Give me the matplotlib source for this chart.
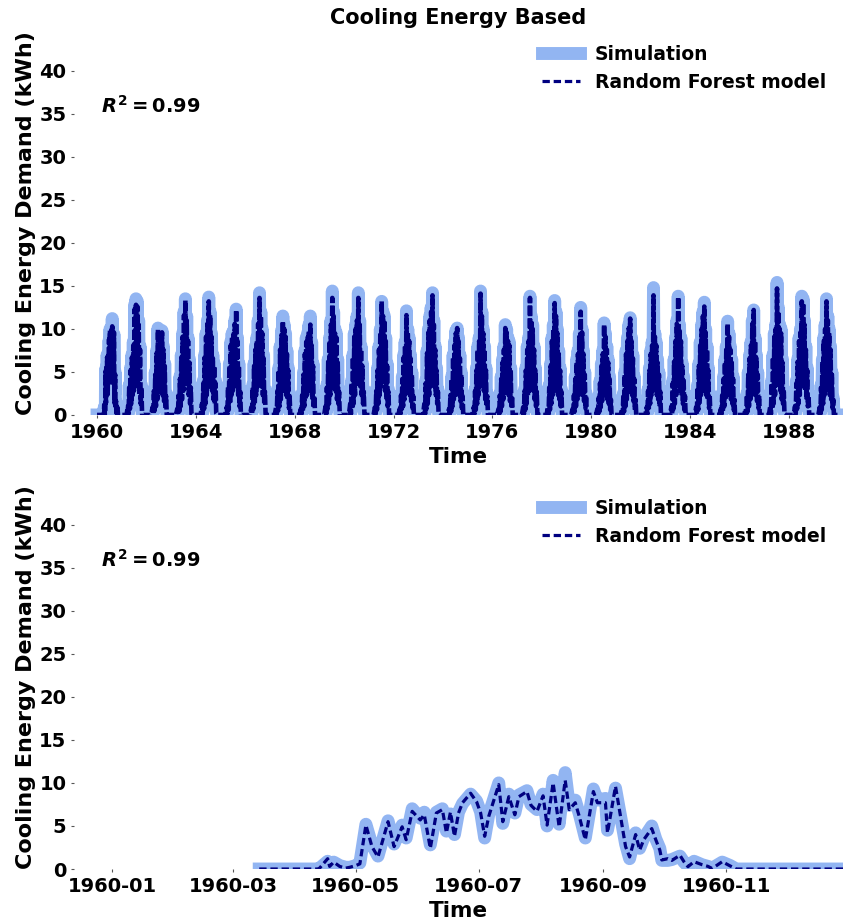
import matplotlib
matplotlib.use("Agg")
import matplotlib.pyplot as plt
import matplotlib.dates as mdates
import pandas as pd

# ---------------- data ----------------
# 1960 daily detail (bottom panel, also used for 1960 in the top panel)
detail_dates = ["1960-03-14", "1960-04-12", "1960-04-13", "1960-04-17", "1960-04-18", "1960-04-20",
                "1960-04-23", "1960-04-26", "1960-04-28", "1960-05-01", "1960-05-03", "1960-05-06",
                "1960-05-09", "1960-05-12", "1960-05-17", "1960-05-20", "1960-05-24", "1960-05-26",
                "1960-05-29", "1960-06-02", "1960-06-04", "1960-06-07", "1960-06-10", "1960-06-13",
                "1960-06-15", "1960-06-17", "1960-06-19", "1960-06-21", "1960-06-23", "1960-06-27",
                "1960-06-30", "1960-07-02", "1960-07-04", "1960-07-06", "1960-07-11", "1960-07-13",
                "1960-07-16", "1960-07-19", "1960-07-21", "1960-07-25", "1960-07-27", "1960-07-30",
                "1960-08-02", "1960-08-04", "1960-08-07", "1960-08-10", "1960-08-13", "1960-08-15",
                "1960-08-18", "1960-08-20", "1960-08-23", "1960-08-27", "1960-08-29", "1960-09-02",
                "1960-09-03", "1960-09-07", "1960-09-12", "1960-09-14", "1960-09-17", "1960-09-19",
                "1960-09-21", "1960-09-25", "1960-09-27", "1960-09-29", "1960-09-30", "1960-10-03",
                "1960-10-05", "1960-10-09", "1960-10-11", "1960-10-13", "1960-10-16", "1960-10-20",
                "1960-10-23", "1960-10-25", "1960-10-30", "1960-11-03", "1960-11-06", "1960-12-31"]
detail_sim = [0.0, 0.0, 0.1, 0.9, 0.5, 0.8, 0.4, 0.2, 0.2, 0.4, 0.7, 5.2,
              2.8, 1.5, 5.6, 2.9, 5.1, 3.6, 7.0, 5.9, 6.6, 2.8, 6.6, 7.0,
              4.4, 6.4, 4.0, 6.6, 7.6, 8.7, 7.9, 6.6, 3.6, 6.3, 10.0, 5.3,
              8.7, 6.5, 8.6, 9.1, 7.5, 6.9, 8.7, 5.0, 10.3, 5.2, 11.2, 7.4,
              8.0, 6.4, 3.6, 9.3, 8.0, 8.2, 4.5, 9.4, 2.9, 1.2, 4.2, 2.4,
              3.6, 5.0, 3.5, 2.4, 1.0, 1.0, 1.1, 1.5, 0.8, 0.3, 0.9, 0.5,
              0.3, 0.1, 0.8, 0.4, 0.0, 0.0]
detail_rf = [0.0, 0.0, 0.1, 1.2, 0.3, 0.8, 0.3, 0.1, 0.2, 0.4, 0.6, 5.1,
             2.6, 1.4, 5.5, 2.6, 4.9, 3.4, 6.7, 5.7, 6.3, 2.4, 6.5, 6.9,
             4.2, 6.6, 3.8, 6.5, 7.7, 8.8, 7.8, 6.5, 3.8, 6.1, 9.8, 5.5,
             8.4, 6.3, 8.4, 9.0, 7.4, 6.7, 8.5, 5.1, 10.0, 4.9, 10.3, 6.9,
             7.7, 6.1, 3.4, 9.0, 7.7, 7.7, 4.2, 9.6, 2.6, 1.4, 4.0, 2.2,
             3.4, 4.7, 3.4, 2.2, 1.05, 1.2, 1.0, 1.6, 0.85, 0.27, 0.85, 0.5,
             0.3, 0.05, 0.85, 0.35, 0.0, 0.0]

# cooling-season samples for 1961-1989 (month-day of each sample)
season_md = ["04-01", "04-11", "04-21", "05-01", "05-11", "05-21", "05-31", "06-10",
             "06-20", "06-30", "07-10", "07-20", "07-30", "08-09", "08-19", "08-29",
             "09-08", "09-18", "09-28", "10-08", "10-18", "10-28"]

sim_1961 = [1.2, 0.2, 3.5, 0.8, 5.5, 1.5, 7.0, 2.5, 8.5, 3.0, 12.8, 4.5, 13.5, 5.0, 13.2, 3.5, 11.0, 2.5, 8.0, 1.5, 3.5, 0.2]
rf_1961 = [1.0, 0.1, 3.2, 0.7, 5.2, 1.3, 6.7, 2.3, 8.1, 2.8, 12.3, 4.2, 12.8, 4.7, 12.6, 3.3, 10.5, 2.3, 7.6, 1.3, 3.2, 0.1]
sim_1962 = [1.0, 0.2, 3.0, 0.6, 5.0, 1.2, 7.5, 2.0, 10.1, 2.5, 8.5, 3.5, 9.0, 3.0, 9.8, 2.5, 8.0, 1.8, 6.0, 1.0, 2.5, 0.1]
rf_1962 = [0.9, 0.1, 2.8, 0.5, 4.7, 1.0, 7.2, 1.8, 9.9, 2.3, 8.2, 3.3, 8.7, 2.8, 9.6, 2.3, 7.6, 1.6, 5.7, 0.8, 2.2, 0.0]
sim_1963 = [0.8, 0.1, 2.5, 0.5, 4.5, 1.2, 7.0, 2.0, 9.5, 3.0, 12.0, 4.0, 13.5, 4.5, 11.5, 3.5, 9.0, 2.5, 6.5, 1.5, 3.5, 0.2]
rf_1963 = [0.7, 0.1, 2.3, 0.4, 4.2, 1.0, 6.7, 1.8, 9.1, 2.8, 11.6, 3.8, 13.3, 4.2, 11.0, 3.3, 8.6, 2.3, 6.1, 1.3, 3.2, 0.1]
sim_1964 = [1.5, 0.2, 4.0, 0.8, 7.0, 1.5, 9.5, 2.5, 11.0, 3.5, 13.7, 4.0, 12.0, 3.5, 9.5, 3.0, 7.0, 2.0, 6.0, 1.5, 4.0, 0.3]
rf_1964 = [1.3, 0.1, 3.7, 0.7, 6.7, 1.3, 9.1, 2.3, 10.6, 3.3, 13.2, 3.7, 11.6, 3.3, 9.1, 2.8, 6.6, 1.8, 5.7, 1.3, 3.7, 0.2]
sim_1965 = [1.0, 0.2, 3.5, 0.7, 6.0, 1.5, 8.5, 2.5, 9.5, 3.0, 9.8, 3.5, 11.0, 4.0, 12.3, 3.5, 9.0, 2.5, 6.0, 1.2, 3.0, 0.1]
rf_1965 = [0.9, 0.1, 3.2, 0.6, 5.7, 1.3, 8.1, 2.3, 9.1, 2.8, 9.4, 3.3, 10.6, 3.7, 12.2, 3.3, 8.6, 2.3, 5.7, 1.0, 2.7, 0.0]
sim_1966 = [1.0, 0.2, 3.5, 0.8, 6.0, 1.5, 8.0, 2.5, 9.0, 3.5, 11.0, 4.0, 14.2, 4.5, 12.0, 3.5, 10.0, 2.5, 7.0, 1.5, 3.0, 0.2]
rf_1966 = [0.9, 0.1, 3.2, 0.7, 5.7, 1.3, 7.6, 2.3, 8.6, 3.3, 10.6, 3.7, 13.6, 4.2, 11.5, 3.3, 9.5, 2.3, 6.6, 1.3, 2.7, 0.1]
sim_1967 = [1.0, 0.2, 3.0, 0.6, 5.5, 1.2, 8.0, 2.0, 9.8, 3.0, 11.5, 3.5, 10.5, 3.0, 9.5, 2.5, 7.5, 2.0, 5.5, 1.0, 2.5, 0.1]
rf_1967 = [0.9, 0.1, 2.8, 0.5, 5.2, 1.0, 7.6, 1.8, 9.3, 2.8, 10.9, 3.3, 10.0, 2.8, 9.1, 2.3, 7.1, 1.8, 5.2, 0.8, 2.2, 0.0]
sim_1968 = [0.8, 0.1, 2.5, 0.5, 5.0, 1.2, 7.5, 2.0, 9.0, 2.5, 9.5, 3.0, 10.5, 3.5, 11.5, 3.0, 8.5, 2.0, 6.0, 1.0, 2.5, 0.1]
rf_1968 = [0.7, 0.1, 2.3, 0.4, 4.7, 1.0, 7.1, 1.8, 8.5, 2.3, 9.0, 2.8, 9.8, 3.3, 10.5, 2.8, 8.1, 1.8, 5.7, 0.8, 2.2, 0.0]
sim_1969 = [1.2, 0.2, 3.5, 0.8, 6.5, 1.5, 9.0, 2.5, 11.0, 3.5, 14.4, 4.5, 12.0, 4.0, 10.0, 3.0, 9.5, 2.0, 6.5, 1.5, 3.0, 0.2]
rf_1969 = [1.0, 0.1, 3.2, 0.7, 6.2, 1.3, 8.6, 2.3, 10.5, 3.3, 13.6, 4.2, 11.5, 3.7, 9.5, 2.8, 9.0, 1.8, 6.1, 1.3, 2.7, 0.1]
sim_1970 = [1.5, 0.2, 4.0, 0.8, 7.0, 1.5, 9.5, 2.5, 10.5, 3.5, 11.5, 4.0, 14.2, 4.5, 11.0, 3.5, 8.0, 2.5, 6.0, 1.5, 3.0, 0.2]
rf_1970 = [1.3, 0.1, 3.7, 0.7, 6.7, 1.3, 9.1, 2.3, 10.0, 3.3, 11.0, 3.7, 13.6, 4.2, 10.5, 3.3, 7.6, 2.3, 5.7, 1.3, 2.7, 0.1]
sim_1971 = [1.0, 0.2, 3.0, 0.7, 5.5, 1.5, 8.0, 2.5, 10.0, 3.5, 13.2, 4.5, 12.0, 4.0, 11.5, 3.0, 9.0, 2.0, 6.0, 1.2, 3.0, 0.1]
rf_1971 = [0.9, 0.1, 2.8, 0.6, 5.2, 1.3, 7.6, 2.3, 9.6, 3.3, 13.2, 4.2, 11.5, 3.7, 11.0, 2.8, 8.6, 1.8, 5.7, 1.0, 2.7, 0.0]
sim_1972 = [0.8, 0.1, 2.5, 0.5, 4.5, 1.2, 7.0, 2.0, 8.5, 2.5, 12.1, 3.5, 10.0, 3.0, 9.0, 2.5, 7.0, 1.8, 5.0, 1.0, 2.5, 0.1]
rf_1972 = [0.7, 0.1, 2.3, 0.4, 4.2, 1.0, 6.7, 1.8, 8.1, 2.3, 11.6, 3.3, 9.6, 2.8, 8.6, 2.3, 6.6, 1.6, 4.7, 0.8, 2.2, 0.0]
sim_1973 = [1.5, 0.2, 4.0, 0.8, 7.5, 1.5, 10.0, 2.5, 11.5, 3.5, 12.5, 4.0, 14.2, 4.5, 11.0, 3.5, 8.0, 2.5, 5.5, 1.5, 3.0, 0.2]
rf_1973 = [1.3, 0.1, 3.7, 0.7, 7.2, 1.3, 9.6, 2.3, 11.0, 3.3, 12.0, 3.7, 13.9, 4.2, 10.5, 3.3, 7.6, 2.3, 5.2, 1.3, 2.7, 0.1]
sim_1974 = [0.8, 0.1, 2.5, 0.5, 4.5, 1.2, 7.0, 2.0, 8.5, 2.5, 9.8, 3.0, 10.1, 3.0, 9.0, 2.5, 7.0, 1.8, 5.0, 1.0, 2.5, 0.1]
rf_1974 = [0.7, 0.1, 2.3, 0.4, 4.2, 1.0, 6.7, 1.8, 8.1, 2.3, 9.5, 2.8, 10.1, 2.8, 8.6, 2.3, 6.6, 1.6, 4.7, 0.8, 2.2, 0.0]
sim_1975 = [1.0, 0.2, 3.0, 0.7, 5.5, 1.5, 8.0, 2.5, 9.0, 3.5, 14.4, 4.5, 12.0, 4.0, 10.0, 3.0, 8.0, 2.0, 5.5, 1.2, 2.5, 0.1]
rf_1975 = [0.9, 0.1, 2.8, 0.6, 5.2, 1.3, 7.6, 2.3, 8.6, 3.3, 14.1, 4.2, 11.5, 3.7, 9.5, 2.8, 7.6, 1.8, 5.2, 1.0, 2.2, 0.0]
sim_1976 = [0.8, 0.1, 2.5, 0.5, 4.5, 1.2, 6.5, 2.0, 8.0, 2.5, 10.5, 3.0, 10.0, 3.0, 9.0, 2.5, 8.5, 1.8, 5.5, 1.0, 2.5, 0.1]
rf_1976 = [0.7, 0.1, 2.3, 0.4, 4.2, 1.0, 6.1, 1.8, 7.6, 2.3, 10.1, 2.8, 9.6, 2.8, 8.6, 2.3, 8.1, 1.6, 5.2, 0.8, 2.2, 0.0]
sim_1977 = [1.0, 0.2, 3.0, 0.7, 5.5, 1.5, 8.0, 2.5, 9.0, 3.0, 13.8, 4.0, 11.5, 3.5, 10.5, 3.0, 8.0, 2.0, 5.5, 1.2, 3.0, 0.1]
rf_1977 = [0.9, 0.1, 2.8, 0.6, 5.2, 1.3, 7.6, 2.3, 8.6, 2.8, 13.6, 3.7, 11.0, 3.3, 10.0, 2.8, 7.6, 1.8, 5.2, 1.0, 2.7, 0.0]
sim_1978 = [1.0, 0.2, 3.5, 0.7, 6.0, 1.5, 9.0, 2.5, 10.5, 3.0, 13.3, 4.0, 12.0, 3.5, 10.0, 2.5, 7.5, 2.0, 5.5, 1.2, 3.0, 0.1]
rf_1978 = [0.9, 0.1, 3.2, 0.6, 5.7, 1.3, 8.6, 2.3, 10.0, 2.8, 13.0, 3.7, 11.5, 3.3, 9.5, 2.3, 7.1, 1.8, 5.2, 1.0, 2.7, 0.0]
sim_1979 = [0.8, 0.1, 2.5, 0.5, 4.5, 1.2, 6.5, 2.0, 7.5, 2.5, 9.5, 3.0, 12.5, 3.5, 10.0, 2.5, 7.5, 1.8, 5.0, 1.0, 2.5, 0.1]
rf_1979 = [0.7, 0.1, 2.3, 0.4, 4.2, 1.0, 6.1, 1.8, 7.1, 2.3, 9.1, 2.8, 12.0, 3.3, 9.6, 2.3, 7.1, 1.6, 4.7, 0.8, 2.2, 0.0]
sim_1980 = [0.8, 0.1, 2.2, 0.5, 4.0, 1.0, 6.0, 1.8, 7.5, 2.5, 10.7, 3.0, 9.5, 2.5, 8.0, 2.0, 6.5, 1.5, 4.5, 0.8, 2.0, 0.1]
rf_1980 = [0.7, 0.1, 2.0, 0.4, 3.7, 0.9, 5.7, 1.6, 7.1, 2.3, 10.5, 2.8, 9.1, 2.3, 7.6, 1.8, 6.1, 1.3, 4.2, 0.6, 1.8, 0.0]
sim_1981 = [0.8, 0.1, 2.5, 0.5, 5.0, 1.2, 7.5, 2.0, 9.0, 2.5, 10.5, 3.0, 11.3, 3.0, 9.0, 2.5, 7.0, 1.8, 4.5, 0.8, 2.0, 0.1]
rf_1981 = [0.7, 0.1, 2.3, 0.4, 4.7, 1.0, 7.1, 1.8, 8.6, 2.3, 10.1, 2.8, 11.2, 2.8, 8.6, 2.3, 6.6, 1.6, 4.2, 0.6, 1.8, 0.0]
sim_1982 = [1.0, 0.2, 3.0, 0.7, 5.5, 1.5, 7.5, 2.5, 8.5, 3.0, 14.8, 4.0, 9.5, 3.5, 8.5, 2.5, 6.5, 2.0, 5.0, 1.2, 3.0, 0.1]
rf_1982 = [0.9, 0.1, 2.8, 0.6, 5.2, 1.3, 7.1, 2.3, 8.1, 2.8, 13.9, 3.7, 9.1, 3.3, 8.1, 2.3, 6.1, 1.8, 4.7, 1.0, 2.7, 0.0]
sim_1983 = [1.2, 0.2, 4.0, 0.8, 6.5, 1.5, 9.0, 2.5, 11.0, 3.5, 13.8, 4.0, 10.5, 3.0, 9.0, 2.5, 6.0, 1.5, 4.5, 0.8, 2.5, 0.1]
rf_1983 = [1.0, 0.1, 3.7, 0.7, 6.2, 1.3, 8.6, 2.3, 10.6, 3.3, 13.7, 3.7, 10.0, 2.8, 8.6, 2.3, 5.7, 1.3, 4.2, 0.6, 2.2, 0.0]
sim_1984 = [1.0, 0.2, 3.5, 0.7, 6.0, 1.5, 8.5, 2.5, 10.5, 3.0, 12.0, 3.5, 13.1, 3.5, 10.0, 2.5, 8.0, 2.0, 5.5, 1.0, 2.5, 0.1]
rf_1984 = [0.9, 0.1, 3.2, 0.6, 5.7, 1.3, 8.1, 2.3, 10.0, 2.8, 11.5, 3.3, 12.6, 3.3, 9.6, 2.3, 7.6, 1.8, 5.2, 0.8, 2.2, 0.0]
sim_1985 = [0.8, 0.1, 2.5, 0.5, 4.5, 1.2, 6.5, 2.0, 8.0, 2.5, 10.9, 3.0, 9.5, 2.5, 8.0, 2.0, 6.5, 1.5, 4.5, 0.8, 2.0, 0.1]
rf_1985 = [0.7, 0.1, 2.3, 0.4, 4.2, 1.0, 6.1, 1.8, 7.6, 2.3, 10.6, 2.8, 9.1, 2.3, 7.6, 1.8, 6.1, 1.3, 4.2, 0.6, 1.8, 0.0]
sim_1986 = [0.8, 0.1, 2.5, 0.5, 5.0, 1.2, 7.0, 2.0, 8.5, 2.5, 11.0, 3.0, 12.2, 3.0, 9.0, 2.5, 7.0, 1.8, 5.0, 1.0, 2.5, 0.1]
rf_1986 = [0.7, 0.1, 2.3, 0.4, 4.7, 1.0, 6.6, 1.8, 8.1, 2.3, 10.6, 2.8, 12.2, 2.8, 8.6, 2.3, 6.6, 1.6, 4.7, 0.8, 2.2, 0.0]
sim_1987 = [1.2, 0.2, 4.0, 0.8, 7.0, 1.5, 9.5, 2.5, 10.5, 3.5, 15.4, 4.5, 12.5, 4.0, 10.5, 3.0, 10.0, 2.0, 6.5, 1.5, 3.0, 0.2]
rf_1987 = [1.0, 0.1, 3.7, 0.7, 6.7, 1.3, 9.1, 2.3, 10.0, 3.3, 14.7, 4.2, 12.0, 3.7, 10.0, 2.8, 9.5, 1.8, 6.1, 1.3, 2.7, 0.1]
sim_1988 = [1.2, 0.2, 4.0, 0.8, 6.5, 1.5, 9.0, 2.5, 10.0, 3.5, 13.8, 4.0, 13.5, 4.0, 11.0, 3.0, 8.0, 2.0, 5.5, 1.2, 2.5, 0.1]
rf_1988 = [1.0, 0.1, 3.7, 0.7, 6.2, 1.3, 8.6, 2.3, 9.6, 3.3, 13.2, 3.7, 13.0, 3.7, 10.5, 2.8, 7.6, 1.8, 5.2, 1.0, 2.2, 0.0]
sim_1989 = [1.0, 0.2, 3.5, 0.7, 6.5, 1.5, 9.0, 2.5, 10.5, 3.0, 13.5, 4.0, 11.5, 3.5, 10.0, 2.5, 8.0, 2.0, 5.0, 1.0, 2.0, 0.1]
rf_1989 = [0.9, 0.1, 3.2, 0.6, 6.2, 1.3, 8.6, 2.3, 10.0, 2.8, 13.2, 3.7, 11.0, 3.3, 9.5, 2.3, 7.6, 1.8, 4.7, 0.8, 1.8, 0.0]

years = list(range(1961, 1990))
sim_years = [sim_1961, sim_1962, sim_1963, sim_1964, sim_1965, sim_1966, sim_1967, sim_1968,
             sim_1969, sim_1970, sim_1971, sim_1972, sim_1973, sim_1974, sim_1975, sim_1976,
             sim_1977, sim_1978, sim_1979, sim_1980, sim_1981, sim_1982, sim_1983, sim_1984,
             sim_1985, sim_1986, sim_1987, sim_1988, sim_1989]
rf_years = [rf_1961, rf_1962, rf_1963, rf_1964, rf_1965, rf_1966, rf_1967, rf_1968,
            rf_1969, rf_1970, rf_1971, rf_1972, rf_1973, rf_1974, rf_1975, rf_1976,
            rf_1977, rf_1978, rf_1979, rf_1980, rf_1981, rf_1982, rf_1983, rf_1984,
            rf_1985, rf_1986, rf_1987, rf_1988, rf_1989]

r2_text = r"$R^2 = 0.99$"
top_title = "Cooling Energy Based"
ylabel = "Cooling Energy Demand (kWh)"
xlabel = "Time"
legend_labels = ["Simulation", "Random Forest model"]

# ---------------- assemble series ----------------
top_dates = ["1960-01-01"] + detail_dates
top_sim = [0.0] + detail_sim
top_rf = [0.0] + detail_rf
for y, s, r in zip(years, sim_years, rf_years):
    top_dates += [f"{y}-01-01", f"{y}-03-12"] + [f"{y}-{md}" for md in season_md] + [f"{y}-11-15", f"{y}-12-31"]
    top_sim += [0.0, 0.0] + s + [0.0, 0.0]
    top_rf += [0.0, 0.0] + r + [0.0, 0.0]
top_dates = pd.to_datetime(top_dates)
bot_dates = pd.to_datetime(detail_dates)

# ---------------- style ----------------
plt.rcParams.update({
    "font.family": "DejaVu Sans",
    "font.weight": "bold",
    "axes.labelweight": "bold",
    "axes.titleweight": "bold",
    "mathtext.fontset": "custom",
    "mathtext.rm": "DejaVu Sans:bold",
    "mathtext.it": "DejaVu Sans:italic:bold",
    "mathtext.bf": "DejaVu Sans:bold",
})

SIM_COLOR = "#92B5F2"
RF_COLOR = "#000080"
SIM_LW = 9.3
RF_LW = 2.3
RF_DASH = (0, (2.3, 1.2))

fig = plt.figure(figsize=(8.44, 9.23), dpi=100)
ax1 = fig.add_axes([0.0877, 0.5504, 0.9111, 0.4150])
ax2 = fig.add_axes([0.0877, 0.0585, 0.9111, 0.4150])


def style(ax, handles):
    for sp in ax.spines.values():
        sp.set_visible(False)
    ax.set_ylim(0, 44.5)
    ax.set_yticks(range(0, 45, 5))
    ax.tick_params(axis="both", labelsize=14, length=2.5, width=0.8, pad=3, color="#555555")
    ax.set_ylabel(ylabel, fontsize=16, labelpad=2)
    ax.set_xlabel(xlabel, fontsize=15.5)
    ax.text(0.035, 0.807, r2_text, transform=ax.transAxes, fontsize=14, va="center", ha="left")
    ax.legend(handles, legend_labels, loc="upper right", bbox_to_anchor=(1.0, 1.011),
              frameon=False, fontsize=13.5)


# bottom (detail of 1960)
b_sim, = ax2.plot(bot_dates, detail_sim, color=SIM_COLOR, lw=SIM_LW, solid_joinstyle="round")
b_rf, = ax2.plot(bot_dates, detail_rf, color=RF_COLOR, lw=RF_LW, linestyle=RF_DASH)
ax2.set_xlim(pd.Timestamp("1959-12-13"), pd.Timestamp("1960-12-29"))
ax2.xaxis.set_major_locator(mdates.MonthLocator(bymonth=[1, 3, 5, 7, 9, 11]))
ax2.xaxis.set_major_formatter(mdates.DateFormatter("%Y-%m"))
style(ax2, [b_sim, b_rf])

# top (1960-1989)
ax1.plot(top_dates, top_sim, color=SIM_COLOR, lw=SIM_LW, solid_joinstyle="round")
ax1.plot(top_dates, top_rf, color=RF_COLOR, lw=3.3, linestyle=(0, (2.2, 0.6)))
ax1.set_xlim(pd.Timestamp("1959-01-26"), pd.Timestamp("1990-03-11"))
ax1.xaxis.set_major_locator(mdates.YearLocator(4))
ax1.xaxis.set_major_formatter(mdates.DateFormatter("%Y"))
ax1.set_title(top_title, fontsize=15)
style(ax1, [b_sim, b_rf])

fig.savefig("out.png", dpi=100)
